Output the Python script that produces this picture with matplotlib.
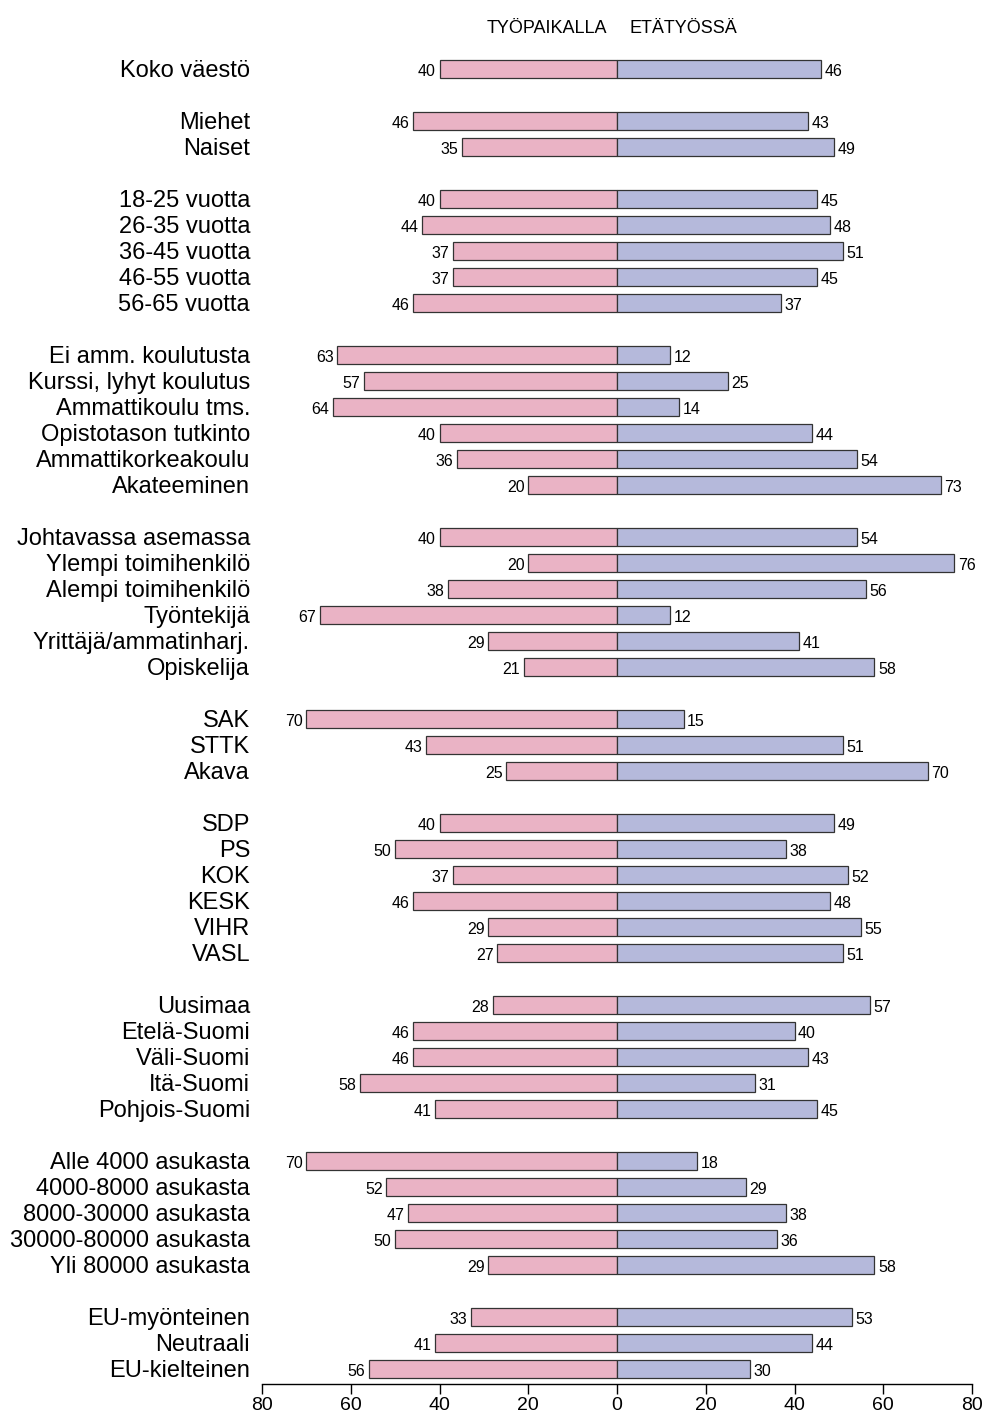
import matplotlib.pyplot as plt
from matplotlib import font_manager

# data, grouped as in the chart
groups = [
    ["Koko väestö"],
    ["Miehet", "Naiset"],
    ["18-25 vuotta", "26-35 vuotta", "36-45 vuotta", "46-55 vuotta", "56-65 vuotta"],
    ["Ei amm. koulutusta", "Kurssi, lyhyt koulutus", "Ammattikoulu tms.",
     "Opistotason tutkinto", "Ammattikorkeakoulu", "Akateeminen"],
    ["Johtavassa asemassa", "Ylempi toimihenkilö", "Alempi toimihenkilö",
     "Työntekijä", "Yrittäjä/ammatinharj.", "Opiskelija"],
    ["SAK", "STTK", "Akava"],
    ["SDP", "PS", "KOK", "KESK", "VIHR", "VASL"],
    ["Uusimaa", "Etelä-Suomi", "Väli-Suomi", "Itä-Suomi", "Pohjois-Suomi"],
    ["Alle 4000 asukasta", "4000-8000 asukasta", "8000-30000 asukasta",
     "30000-80000 asukasta", "Yli 80000 asukasta"],
    ["EU-myönteinen", "Neutraali", "EU-kielteinen"],
]
tyopaikalla = [
    [40],
    [46, 35],
    [40, 44, 37, 37, 46],
    [63, 57, 64, 40, 36, 20],
    [40, 20, 38, 67, 29, 21],
    [70, 43, 25],
    [40, 50, 37, 46, 29, 27],
    [28, 46, 46, 58, 41],
    [70, 52, 47, 50, 29],
    [33, 41, 56],
]
etatyossa = [
    [46],
    [43, 49],
    [45, 48, 51, 45, 37],
    [12, 25, 14, 44, 54, 73],
    [54, 76, 56, 12, 41, 58],
    [15, 51, 70],
    [49, 38, 52, 48, 55, 51],
    [57, 40, 43, 31, 45],
    [18, 29, 38, 36, 58],
    [53, 44, 30],
]
header_left = "TYÖPAIKALLA"
header_right = "ETÄTYÖSSÄ"

plt.rcParams['font.family'] = ['Liberation Sans', 'DejaVu Sans']

pink = "#EAB3C5"
blue = "#B5B9DB"
edge = "#333333"

# row positions: one blank row between groups
labels, left, right, ypos = [], [], [], []
row = 0
for g, a, b in zip(groups, tyopaikalla, etatyossa):
    for lab, va, vb in zip(g, a, b):
        labels.append(lab)
        left.append(va)
        right.append(vb)
        ypos.append(row)
        row += 1
    row += 1

W, H = 986, 1414
fig = plt.figure(figsize=(W / 100, H / 100), dpi=100)
top_px, bot_px = 45.6, 1384
ax = fig.add_axes([262 / W, (H - bot_px) / H, (972 - 262) / W, (bot_px - top_px) / H])

ax.barh(ypos, [-v for v in left], height=0.72, color=pink, edgecolor=edge, linewidth=0.9)
ax.barh(ypos, right, height=0.72, color=blue, edgecolor=edge, linewidth=0.9)

for y, va, vb, lab in zip(ypos, left, right, labels):
    ax.text(-va - 0.8, y + 0.05, str(va), ha='right', va='center_baseline', fontsize=11.5)
    ax.text(vb + 0.8, y + 0.05, str(vb), ha='left', va='center_baseline', fontsize=11.5)
    ax.text(-82.7, y, lab, ha='right', va='center_baseline', fontsize=17, clip_on=False)

ax.text(-2.3, -1.65, header_left, ha='right', va='center_baseline', fontsize=13)
ax.text(2.9, -1.65, header_right, ha='left', va='center_baseline', fontsize=13)

ax.set_xlim(-80, 80)
ax.set_ylim(ypos[-1] + 0.58, -0.9)
ax.set_xticks(range(-80, 81, 20))
ax.set_xticklabels([str(abs(t)) for t in range(-80, 81, 20)], fontsize=14)
ax.set_yticks([])
for s in ["left", "right", "top"]:
    ax.spines[s].set_visible(False)
ax.spines["bottom"].set_linewidth(1.0)
ax.tick_params(axis='x', length=7, width=1.0, pad=2)

fig.savefig("out.png", dpi=100)
